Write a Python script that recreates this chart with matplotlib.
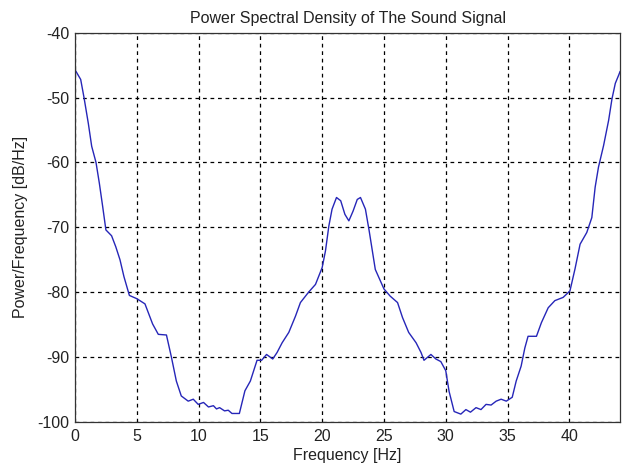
import matplotlib
matplotlib.use("Agg")
import matplotlib.pyplot as plt
import numpy as np

plt.rcParams['font.family'] = ['Liberation Sans', 'DejaVu Sans']
plt.rcParams['axes.unicode_minus'] = False

freq_hz = [0.0, 0.46, 0.73, 1.08, 1.35, 1.7, 1.97, 2.24, 2.5, 2.96, 3.3, 3.64, 3.96,
           4.4, 5.0, 5.66, 6.28, 6.74, 7.4, 7.8, 8.2, 8.6, 9.16, 9.57, 9.97, 10.4,
           10.8, 11.2, 11.45, 11.7, 12.1, 12.4, 12.7, 13.3, 13.75, 14.19, 14.73,
           15.1, 15.5, 16.0, 16.35, 16.76, 17.3, 17.84, 18.24, 18.9, 19.46, 20.0,
           20.27, 20.54, 20.8, 21.16, 21.5, 21.84, 22.16, 22.5, 22.84, 23.1, 23.5,
           23.8, 24.3, 25.0, 25.5, 26.1, 26.5, 27.0, 27.6, 28.0, 28.24, 28.8, 29.2,
           29.6, 30.0, 30.27, 30.68, 31.22, 31.63, 32.0, 32.45, 32.85, 33.26, 33.67,
           34.08, 34.48, 34.9, 35.38, 35.7, 36.1, 36.4, 36.66, 37.34, 37.74, 38.29,
           38.83, 39.5, 40.05, 40.46, 40.87, 41.41, 41.82, 42.09, 42.36, 42.77,
           43.18, 43.45, 43.72, 44.0, 44.1]
psd_db = [-45.7, -47.2, -50.0, -54.0, -57.5, -60.0, -63.2, -66.8, -70.4, -71.3, -73.0,
          -75.0, -77.6, -80.5, -81.0, -81.8, -84.9, -86.5, -86.6, -90.0, -93.7, -96.0,
          -96.8, -96.5, -97.3, -97.0, -97.7, -97.5, -98.0, -97.8, -98.3, -98.2, -98.7,
          -98.7, -95.2, -93.7, -90.5, -90.5, -89.6, -90.3, -89.3, -87.8, -86.2, -83.7,
          -81.6, -80.0, -78.8, -76.2, -73.6, -69.8, -67.2, -65.4, -65.9, -68.0, -69.0,
          -67.5, -65.7, -65.4, -67.2, -70.5, -76.5, -79.5, -80.6, -81.6, -83.9, -86.2,
          -87.8, -89.3, -90.5, -89.6, -90.3, -90.7, -92.1, -95.3, -98.4, -98.8, -98.1,
          -98.5, -97.8, -98.1, -97.3, -97.4, -96.8, -96.5, -96.8, -96.2, -93.7, -91.4,
          -88.6, -86.8, -86.8, -84.7, -82.4, -81.3, -80.8, -79.8, -76.4, -72.6, -70.8,
          -68.5, -63.8, -60.7, -57.4, -53.5, -50.2, -47.8, -46.5, -46.0]

x_ticks = [0, 5, 10, 15, 20, 25, 30, 35, 40]
y_ticks = [-100, -90, -80, -70, -60, -50, -40]

fig = plt.figure(figsize=(6.25, 4.68), dpi=100)
ax = fig.add_axes([0.12, 0.0985, 0.872, 0.8315])
ax.plot(freq_hz, psd_db, color='#2626b8', linewidth=1.0)
ax.set_xlim(0, 44.1)
ax.set_ylim(-100, -40)
ax.set_xticks(x_ticks)
ax.set_yticks(y_ticks)
ax.grid(True, color='black', linestyle=(0, (3, 3)), linewidth=0.9)
ax.tick_params(direction='in', length=0, labelsize=11.5, colors='#222222')
ax.tick_params(axis='x', pad=5)
ax.tick_params(axis='y', pad=4)
for s in ax.spines.values():
    s.set_color('#333333')
    s.set_linewidth(0.9)
ax.set_title('Power Spectral Density of The Sound Signal', fontsize=11.5, color='#222222', pad=7)
ax.set_xlabel('Frequency [Hz]', fontsize=11.5, color='#222222', labelpad=3)
ax.set_ylabel('Power/Frequency [dB/Hz]', fontsize=11.5, color='#222222', labelpad=7)
fig.savefig('out.png', dpi=100)
